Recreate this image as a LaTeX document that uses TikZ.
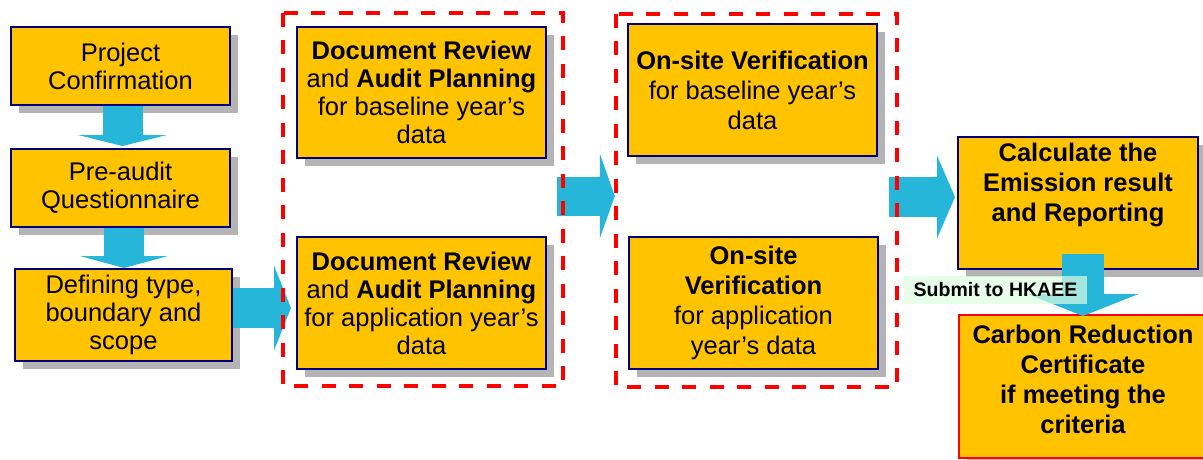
\documentclass[tikz,border=0pt]{standalone}
\usepackage{fontspec}
\setmainfont{Liberation Sans}
\usetikzlibrary{shadows,arrows.meta,calc}
\definecolor{gold}{HTML}{FFC300}
\definecolor{navy}{HTML}{000080}
\definecolor{arrowblue}{HTML}{25B6D9}
\definecolor{shadowgray}{HTML}{B4B4B4}
\definecolor{dashred}{HTML}{FF0000}
\definecolor{lblgreen}{HTML}{DDFDE0}
\begin{document}
\begin{tikzpicture}[x=1pt,y=-1pt,
  box/.style={draw=navy, line width=2pt, fill=gold, inner sep=0pt, align=center,
    font=\fontsize{25.5}{28}\selectfont,
    drop shadow={shadow xshift=8pt, shadow yshift=-8pt, fill=shadowgray, opacity=1}},
  redbox/.style={box, draw=dashred},
  wide/.style={font=\fontsize{25.5}{30}\selectfont},
  txt/.style={align=center, inner sep=0pt, font=\fontsize{25.5}{30}\selectfont\bfseries},
  groupframe/.style={draw=none, inner sep=0pt},
  groupline/.style={draw=dashred, line width=3.6pt, dash pattern=on 14pt off 13.5pt},
  bigarrow/.style={draw=arrowblue, line width=#1},
  tipa/.style n args={2}{-{Triangle[length=#1, width=#2, line width=0pt]}},
  lbl/.style={fill=lblgreen, fill opacity=0.7, text opacity=1, inner sep=0pt,
    font=\fontsize{19.5}{21}\selectfont\bfseries}
]
\useasboundingbox (0,0) rectangle (1203,459);

% boxes
\node[box, minimum width=219pt, minimum height=78pt] (b1) at (120.5,66) {Project\\Confirmation};
\node[box, minimum width=219pt, minimum height=78pt] (b2) at (120.5,188) {Pre-audit\\Questionnaire};
\node[box, minimum width=217pt, minimum height=92pt] (b3) at (123.5,315) {Defining type,\\boundary and\\scope};

\node[box, minimum width=249pt, minimum height=131pt] (dr1) at (421.5,92.5)
  {\textbf{Document Review}\\and \textbf{Audit Planning}\\for baseline year’s\\data};
\node[box, minimum width=249pt, minimum height=132pt] (dr2) at (421.5,303)
  {\textbf{Document Review}\\and \textbf{Audit Planning}\\for application year’s\\data};

\node[box, wide, minimum width=249pt, minimum height=132pt] (ov1) at (752.5,90)
  {\textbf{On-site Verification}\\for baseline year’s\\data};
\node[box, wide, minimum width=249pt, minimum height=132pt] (ov2) at (753.5,303)
  {\textbf{On-site}\\\textbf{Verification}\\for application\\year’s data};

\node[box, minimum width=240pt, minimum height=132pt,
  label={[txt, yshift=18pt]center:{Calculate the\\Emission result\\and Reporting}}] (calc) at (1078,203) {};
\node[redbox, minimum width=248pt, minimum height=143pt,
  label={[txt, yshift=7pt]center:{Carbon Reduction\\Certificate\\if meeting the\\criteria}}] (carbon) at (1083,386.5) {};

% group frames (placed now, their dashed outlines are drawn over the arrows)
\node[groupframe, minimum width=280pt, minimum height=373pt] (g1) at (423,199.5) {};
\node[groupframe, minimum width=281pt, minimum height=373pt] (g2) at (756.5,200.5) {};

% arrows
\draw[bigarrow=40pt, tipa={11pt}{89pt}] ($(b1.south)+(2,0)$) -- ($(b2.north)+(2,-2)$);
\draw[bigarrow=40pt, tipa={12pt}{88pt}] ($(b2.south)+(3.5,0)$) -- ($(b3.north)+(0.5,0)$);
\draw[bigarrow=40pt, tipa={17pt}{85pt}] ($(b3.east)+(0,-7)$) -- ($(dr2.west)+(-5,5)$);
\draw[bigarrow=39pt, tipa={15pt}{85pt}] ($(g1.east)+(-6,-3.5)$) -- ($(g2.west)+(-1,-4.5)$);
\draw[bigarrow=40pt, tipa={18pt}{83pt}] ($(g2.east)+(-8,-3.5)$) -- ($(calc.west)+(-2,-6)$);
\draw[bigarrow=42pt, tipa={22pt}{111pt}] ($(carbon.north)+(0,-60)$) -- ($(carbon.north)+(0,2)$);

% dashed group outlines on top of the arrows
\draw[groupline] (g1.north west) rectangle (g1.south east);
\draw[groupline] (g2.north west) rectangle (g2.south east);

\node[lbl, minimum width=183pt, minimum height=28pt] (submit) at (995.5,290) {Submit to HKAEE};
\end{tikzpicture}
\end{document}
